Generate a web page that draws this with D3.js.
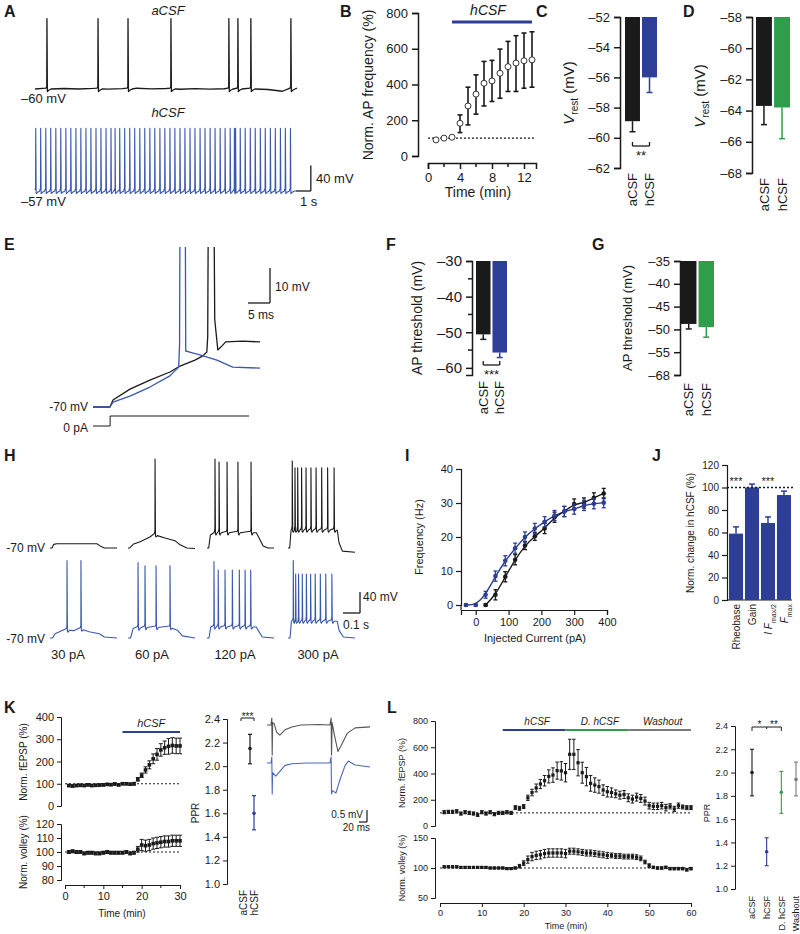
<!DOCTYPE html>
<html><head><meta charset="utf-8">
<script src="https://cdn.jsdelivr.net/npm/d3@7"></script>
<style>body{margin:0;background:#fff}</style>
</head><body><script>
// ================= DATA =================
// A: spike times (s) and baseline wobble (mV, one value per second)
const aCSF_spikes = [0.82,4.33,6.39,9.34,13.32,13.94,14.83,17.58];
const aCSF_noise = [0,-0.5,0.8,0,1.0,-0.3,0.6,1.2,0.2,0.8,-0.4,0.6,-0.2,0.4,0.9,0.3,-0.8,-3.5,1.5];
const hCSF_spikes = [0.05,0.39,0.74,1.08,1.43,1.77,2.12,2.46,2.81,3.15,3.50,3.84,4.19,4.53,4.88,5.22,5.50,5.82,6.16,6.51,6.85,7.20,7.54,7.89,8.23,8.58,8.92,9.27,9.61,9.96,10.30,10.65,10.99,11.34,11.68,12.03,12.37,12.72,13.06,13.41,13.70,13.78,14.10,14.44,14.79,15.13,15.48,15.82,16.17,16.51,16.86,17.20,17.55];
const hCSF_noise = [0,0.3,0,-0.2,0.2,0,0.3,0,-0.2,0.1,0,0.2,0,-0.1,0.2,0,0.1,0,0];
// B
const B_time = [1,2,3,4,5,6,7,8,9,10,11,12,13];
const B_mean = [90,100,105,183,280,346,407,420,463,500,520,533,538];
const B_lo   = [86,96,100,131,174,234,280,305,323,361,361,379,385];
const B_hi   = [94,104,110,230,385,454,529,535,598,641,673,688,695];
// C, D, F, G
const groups2 = ["aCSF","hCSF"];
const C_mean = [-58.9,-56.0], C_err = [0.7,1.0];
const D_mean = [-63.7,-63.8], D_err = [1.2,2.0];
const F_mean = [-50.6,-55.7], F_err = [1.4,1.4];
const G_mean = [-48.8,-49.5], G_err = [1.1,2.2];
const G_tickValues = [-35,-40,-45,-50,-55,-60];
const G_tickLabels = ["–35","–40","–45","–50","–55","–68"];
// E traces [ms, mV]
const E_black = [[0,-70],[3.86,-70],[4.55,-68],[8.41,-64.9],[12.95,-62.3],[17.5,-60],[19.8,-58.3],[23.2,-56.6],[25,-55.4],[25.9,-54.3],[26.1,-50],[26.4,30],[27.3,30],[27.7,-45],[28.4,-53.7],[29.3,-52.6],[30.2,-51.4],[34,-51.2],[38,-51.4]];
const E_blue  = [[0,-70],[3.86,-70],[4.55,-68.6],[8.41,-66.9],[12.95,-64.3],[17.5,-61.1],[19.5,-58.6],[19.7,-52],[19.9,30],[20.9,30],[21.1,-54],[22.0,-54.3],[24.3,-55.1],[28.2,-56.6],[31.8,-58.6],[38,-58.9]];
const E_current = [[0,0],[3.9,0],[3.9,1],[35.5,1]];
// H traces: envelope [ms, mV], spike times (ms), first / later spike peak (mV)
const H_top = [
  {env:[[0,-70],[12,-70],[22,-63],[40,-62],[276,-62],[295,-66],[320,-70],[394,-70]], spikes:[], p1:0, p2:0},
  {env:[[0,-70],[10,-70],[30,-63],[71,-58],[129,-49],[159,-45],[218,-51],[276,-56],[306,-64],[347,-70],[394,-71]], spikes:[159], p1:100, p2:100},
  {env:[[0,-70],[10,-70],[20,-45],[40,-41],[290,-41],[305,-50],[330,-66],[360,-70],[394,-70]], spikes:[47,71,118,182,259], p1:100, p2:94},
  {env:[[0,-70],[10,-70],[18,-36],[290,-36],[300,-60],[320,-76],[394,-78]], spikes:[25,41,57,80,106,135,165,198,233,271], p1:96, p2:83}
];
const H_bottom = [
  {env:[[0,-70],[15,-70],[30,-62],[100,-55],[140,-56],[182,-53],[230,-58],[290,-62],[320,-68],[394,-70]], spikes:[100,182], p1:78, p2:78},
  {env:[[0,-70],[15,-70],[30,-52],[100,-50],[250,-50],[290,-55],[320,-66],[394,-70]], spikes:[59,100,165,247], p1:74, p2:68},
  {env:[[0,-70],[12,-70],[22,-49],[290,-49],[300,-55],[325,-68],[394,-70]], spikes:[41,66,106,149,190,224,257], p1:76, p2:60},
  {env:[[0,-70],[12,-70],[20,-38],[290,-38],[300,-55],[325,-68],[394,-70]], spikes:[31,45,62,84,108,133,160,190,222,258], p1:78, p2:52}
];
const H_labels = ["30 pA","60 pA","120 pA","300 pA"];
// I
const I_current = [-30,0,30,60,90,120,150,180,210,240,270,300,330,360,390];
const I_hcsf    = [0,0,3,8.5,13,16.7,20,22.5,24.5,26.3,27.5,28.2,29.3,29.8,30.1];
const I_hcsfErr = [0.3,0.3,1,1.5,1.5,1.5,1.5,1.5,1.5,1.5,1.5,1.5,1.5,1.5,1.5];
const I_acsf    = [null,null,0,3,8.3,13.3,17.5,20.2,22.5,25.8,27.5,29.7,30,31.5,32.8];
const I_acsfErr = [0,0,0.3,1.5,1.5,1.5,1.2,1.2,1.5,1.5,1.5,1.5,1.5,1.5,1.5];
// J
const J_labels = ["Rheobase","Gain","IFmax2","Fmax"];
const J_mean = [59,100,68.5,93.3];
const J_err  = [6,3,5.3,3.5];
// K
const K_time = [1,2,3,4,5,6,7,8,9,10,11,12,13,14,15,16,17,18,19,20,21,22,23,24,25,26,27,28,29,30];
const K_fepsp = [92,90,92,93,92,95,92,93,94,95,97,96,99,95,100,100,98,100,120,138,162,185,212,232,252,262,268,272,270,270];
const K_fepspErr = [5,5,5,5,5,5,5,5,5,5,5,5,5,5,5,5,5,6,8,10,14,18,22,26,28,30,35,35,35,35];
const K_volley = [100,100.5,100,100,99,99.5,99.5,99,99,99.5,100,99.5,99.5,99.5,99.5,100,99,99.5,102,105,104.5,105,106,106.5,107,107.5,107.5,108,108,108];
const K_volleyErr = [1,1,1,1,1,1,1,1,1,1,1,1,1,1,1,1,1,1,2,4,4,4,4,4,4,4,4,4,4,4];
const K_pprGroups = ["aCSF","hCSF"];
const K_pprMean = [2.15,1.60], K_pprLo = [2.02,1.46], K_pprHi = [2.27,1.75];
const K_gray = [[0,0],[10,0],[12,0.29],[13,-1.25],[14,0.1],[18,0.05],[24,-0.3],[32,-0.42],[45,-0.2],[62,-0.08],[85,0],[130,0.02],[157,0],[160,0.29],[161,-1.25],[162.5,0.1],[168,-0.4],[177,-1.1],[185,-0.85],[200,-0.35],[220,-0.12],[257,-0.08]];
const K_blue = [[0,0],[10,0],[12,0.25],[13,-1.29],[14,-0.4],[22,-0.55],[32,-0.35],[45,-0.1],[62,-0.03],[100,0],[157,0],[160,0.25],[161,-1.29],[163,-1.15],[172,-1.25],[182,-0.7],[195,-0.1],[203,0.08],[220,-0.08],[257,-0.17]];
// L
const L_time = [1,2,3,4,5,6,7,8,9,10,11,12,13,14,15,16,17,18,19,20,21,22,23,24,25,26,27,28,29,30,31,32,33,34,35,36,37,38,39,40,41,42,43,44,45,46,47,48,49,50,51,52,53,54,55,56,57,58,59,60];
const L_fepsp = [105,108,108,112,95,105,100,95,85,105, 95,105,90,100,100,105,100,140,135,148, 215,255,290,320,345,378,388,422,420,406, 546,546,482,406,376,325,312,300,274,261, 255,245,235,240,215,205,220,210,190,155, 150,150,155,140,150,130,155,145,140,140];
const L_fepspErr = [12,12,12,12,12,12,12,12,12,12, 12,12,12,12,12,12,12,15,15,15, 20,25,30,35,40,50,55,65,70,70, 115,115,100,80,70,60,55,50,40,40, 35,30,30,30,30,30,30,30,30,25, 25,25,25,25,20,20,20,15,15,15];
const L_volley = [102,102,102,102,101,101,101,101,101,101, 101,100,100,100,100,99,99,100,103,108, 114,119,121,122,124,125,125,125,125,124, 128,128,127,126,125,125,124,123,122,121, 121,120,120,119,119,119,118,116,110,104, 101,100,100,101,99,99,99,99,97,99];
const L_volleyErr = [1.5,1.5,1.5,1.5,1.5,1.5,1.5,1.5,1.5,1.5, 1.5,1.5,1.5,1.5,1.5,1.5,1.5,1.5,3,4, 6,7,7,7,7,7,7,7,7,7, 5,5,5,5,5,5,5,5,5,5, 4,4,4,4,4,4,4,4,3,3, 2,2,2,2,2,2,2,2,2,2];
const L_phases = ["hCSF","D. hCSF","Washout"];
const L_phaseStart = [15,30,45], L_phaseEnd = [30,45,60];
const L_pprGroups = ["aCSF","hCSF","D. hCSF","Washout"];
const L_pprMean = [2.0,1.32,1.83,1.94], L_pprLo = [1.80,1.20,1.65,1.80], L_pprHi = [2.20,1.44,2.01,2.09];

// ================= DRAWING =================
const FONT = "'Liberation Sans', Arial, Helvetica, sans-serif";
const INK = '#1a1a1a', BLUE = '#2c3e95', TBLUE = '#3a57ad', GREEN = '#2e9e4a', GRAY = '#7a7a7a';
const svg = d3.select('body').append('svg').attr('width',800).attr('height',934)
  .style('background','#fff').attr('font-family',FONT);

function txt(x,y,s,o={}){
  const t = svg.append('text').attr('x',x).attr('y',y).text(s)
    .attr('font-size',o.size||12).attr('text-anchor',o.anchor||'start').attr('fill',o.fill||INK);
  if(o.bold) t.attr('font-weight','bold');
  if(o.italic) t.attr('font-style','italic');
  if(o.rot) t.attr('transform',`rotate(${o.rot},${x},${y})`);
  if(o.dy) t.attr('dy',o.dy);
  return t;
}
function ln(x1,y1,x2,y2,c=INK,w=1,dash=null){
  const l = svg.append('line').attr('x1',x1).attr('y1',y1).attr('x2',x2).attr('y2',y2)
    .attr('stroke',c).attr('stroke-width',w);
  if(dash) l.attr('stroke-dasharray',dash);
  return l;
}
function styleAxis(g,size,sw){
  g.attr('font-family',FONT);
  g.selectAll('text').attr('font-size',size).attr('fill',INK).attr('font-family',FONT);
  g.selectAll('line').attr('stroke',INK).attr('stroke-width',sw);
  g.select('.domain').attr('stroke',INK).attr('stroke-width',sw);
}
function yAxis(x,scale,o){
  const ax = d3.axisLeft(scale).tickSizeOuter(0).tickSize(o.tick||5).tickPadding(o.pad||3);
  if(o.values) ax.tickValues(o.values);
  if(o.fmt) ax.tickFormat(o.fmt);
  const g = svg.append('g').attr('transform',`translate(${x},0)`).call(ax);
  styleAxis(g,o.size||12,o.sw||1);
  return g;
}
function xAxis(y,scale,o){
  const ax = d3.axisBottom(scale).tickSizeOuter(0).tickSize(o.tick||5).tickPadding(o.pad||3);
  if(o.values) ax.tickValues(o.values);
  if(o.fmt) ax.tickFormat(o.fmt);
  const g = svg.append('g').attr('transform',`translate(0,${y})`).call(ax);
  styleAxis(g,o.size||12,o.sw||1);
  return g;
}
function minorTicksX(y,scale,vals,len,sw){ vals.forEach(v=>ln(scale(v),y,scale(v),y+len,INK,sw)); }
function minorTicksY(x,scale,vals,len,sw){ vals.forEach(v=>ln(x,scale(v),x-len,scale(v),INK,sw)); }
function errBar(x,y1,y2,c,cap,sw,capTop=true,capBot=true){
  ln(x,y1,x,y2,c,sw);
  if(capTop) ln(x-cap/2,Math.min(y1,y2),x+cap/2,Math.min(y1,y2),c,sw);
  if(capBot) ln(x-cap/2,Math.max(y1,y2),x+cap/2,Math.max(y1,y2),c,sw);
}
const endash = d => (d<0? '–'+Math.abs(d) : String(d));
function path(points, line, color, w){
  return svg.append('path').attr('d',line(points)).attr('fill','none').attr('stroke',color)
    .attr('stroke-width',w).attr('stroke-linejoin','round');
}
// panel letters
[["A",4,17],["B",340,17],["C",536,17],["D",683,17],["E",4,250],["F",386,250],["G",592,250],
 ["H",4,461],["I",405,461],["J",652,461],["K",4,713],["L",387,713]].forEach(d=>txt(d[1],d[2],d[0],{size:16,bold:true}));

// ---------- A ----------
function train(spikes, noise, base, peak){
  const pts = [];
  noise.forEach((n,i)=>{ if(!spikes.some(s=> i>s-0.08 && i<s+0.3)) pts.push([i, base+n]); });
  spikes.forEach(s=>{ pts.push([s-0.06,base+1.5],[s-0.012,base+4],[s,peak],[s+0.03,base-4],[s+0.12,base-2],[s+0.28,base]); });
  pts.sort((a,b)=>a[0]-b[0]);
  return pts;
}
const xA = d3.scaleLinear([0,18],[35,297]);
const yA1 = d3.scaleLinear([-60,50],[89,18.6]);
const yA2 = d3.scaleLinear([-57,50],[191,122.5]);
path(train(aCSF_spikes,aCSF_noise,-60,50), d3.line().x(d=>xA(d[0])).y(d=>yA1(d[1])), INK, 1.3);
path(train(hCSF_spikes,hCSF_noise,-57,41), d3.line().x(d=>xA(d[0])).y(d=>yA2(d[1])), TBLUE, 1.1);
txt(168,15,"aCSF",{size:13,italic:true,anchor:'middle'});
txt(168,117,"hCSF",{size:13,italic:true,anchor:'middle'});
txt(21,103,"–60 mV",{size:13});
txt(21,206,"–57 mV",{size:13});
ln(xA(17.95),yA2(-57),xA(18.95),yA2(-57),INK,1.3);
ln(xA(18.95),yA2(-57),xA(18.95),yA2(-17),INK,1.3);
txt(316,183,"40 mV",{size:13});
txt(300,206,"1 s",{size:13});

// ---------- B ----------
const xB = d3.scaleLinear([0,13.5],[428,536]);
const yB = d3.scaleLinear([0,800],[156,13]);
yAxis(418,yB,{values:[0,200,400,600,800],tick:6,size:13,sw:1.5,pad:4});
xAxis(163,xB,{values:[0,4,8,12],tick:6,size:13,sw:1.5,pad:4});
minorTicksX(163,xB,[2,6,10],4,1.5);
ln(xB(0),yB(100),xB(13.5),yB(100),INK,1.2,'2,2');
ln(xB(3),22,xB(13),22,BLUE,3);
txt(488,15,"hCSF",{size:14,italic:true,anchor:'middle'});
B_time.forEach((t,i)=>{ if(B_hi[i]-B_lo[i]>12) errBar(xB(t),yB(B_lo[i]),yB(B_hi[i]),INK,5,1.6); });
svg.selectAll(null).data(B_time).join('circle').attr('cx',d=>xB(d)).attr('cy',(d,i)=>yB(B_mean[i]))
  .attr('r',3).attr('fill','#fff').attr('stroke','#333').attr('stroke-width',1);
txt(373,85,"Norm. AP frequency (%)",{size:14,anchor:'middle',rot:-90});
txt(478,197,"Time (min)",{size:14,anchor:'middle'});

// ---------- bar panel helper (bars hang from top of axis) ----------
function hangBars(o){
  const y = d3.scaleLinear(o.domain,o.range);
  yAxis(o.ax,y,{values:o.values,fmt:o.fmt||endash,tick:6,size:o.size||13,sw:1.5,pad:4});
  if(o.minor) minorTicksY(o.ax,y,o.minor,4,1.5);
  const xb = d3.scaleBand(groups2,o.xr).paddingInner(0.12);
  groups2.forEach((g,i)=>{
    const x = xb(g), w = xb.bandwidth(), c = o.colors[i];
    svg.append('rect').attr('x',x).attr('y',y(o.domain[1])).attr('width',w)
      .attr('height',y(o.mean[i])-y(o.domain[1])).attr('fill',c);
    errBar(x+w/2,y(o.mean[i]),y(o.mean[i]-o.err[i]),c,6,1.5,false,true);
    txt(x+w/2,o.labY,g,{size:13,anchor:'end',rot:-90,dy:'0.36em'});
  });
  if(o.star){
    const x1 = xb(groups2[0])+xb.bandwidth()/2, x2 = xb(groups2[1])+xb.bandwidth()/2;
    ln(x1,o.brY,x2,o.brY,INK,1.3); ln(x1,o.brY,x1,o.brY-4,INK,1.3); ln(x2,o.brY,x2,o.brY-4,INK,1.3);
    txt((x1+x2)/2,o.brY+14,o.star,{size:13,anchor:'middle'});
  }
  return y;
}
// C
hangBars({domain:[-62,-52],range:[168,17],ax:620,values:[-62,-60,-58,-56,-54,-52],xr:[625,657],
  mean:C_mean,err:C_err,colors:[INK,BLUE],labY:173,star:'**',brY:146});
// D
hangBars({domain:[-68,-58],range:[173,17],ax:752,values:[-68,-66,-64,-62,-60,-58],xr:[756,790],
  mean:D_mean,err:D_err,colors:[INK,GREEN],labY:178});
function yLabelVrest(x,y){
  const t = svg.append('text').attr('transform',`translate(${x},${y}) rotate(-90)`).attr('text-anchor','middle')
    .attr('font-size',15).attr('fill',INK);
  t.append('tspan').text('V').attr('font-style','italic');
  t.append('tspan').text('rest').attr('font-size',10).attr('dy',4);
  t.append('tspan').text(' (mV)').attr('dy',-4);
}
yLabelVrest(574,93);
yLabelVrest(705,96);
// F
hangBars({domain:[-62,-30],range:[375,261],ax:472,values:[-60,-50,-40,-30],minor:[-55,-45,-35],xr:[476,507],
  mean:F_mean,err:F_err,colors:[INK,BLUE],labY:381,star:'***',brY:365,size:15});
txt(422,318,"AP threshold (mV)",{size:14,anchor:'middle',rot:-90});
// G
const yGdom = [-60,-35];
hangBars({domain:yGdom,range:[375,261],ax:680,values:G_tickValues,fmt:(d,i)=>G_tickLabels[G_tickValues.indexOf(d)],xr:[681,714],
  mean:G_mean,err:G_err,colors:[INK,GREEN],labY:383});
txt(632,318,"AP threshold (mV)",{size:13,anchor:'middle',rot:-90});

// ---------- E ----------
const xE = d3.scaleLinear([0,38],[93,260]);
const yE = d3.scaleLinear([-70,-60],[407,372]);
svg.append('clipPath').attr('id','clipE').append('rect').attr('x',80).attr('y',247).attr('width',200).attr('height',200);
const lineE = d3.line().x(d=>xE(d[0])).y(d=>yE(d[1]));
path(E_black,lineE,INK,1.3).attr('clip-path','url(#clipE)');
path(E_blue,lineE,TBLUE,1.3).attr('clip-path','url(#clipE)');
const yEc = d3.scaleLinear([0,1],[426,416]);
path(E_current,d3.line().x(d=>xE(d[0])).y(d=>yEc(d[1])),INK,1);
txt(88,411,"-70 mV",{size:12,anchor:'end'});
txt(88,432,"0 pA",{size:12,anchor:'end'});
ln(248,303,270,303,INK,1.3); ln(270,303,270,268,INK,1.3);
txt(275,291,"10 mV",{size:12});
txt(248,319,"5 ms",{size:12});

// ---------- H ----------
function hTrace(tr){
  const envAt = d3.scaleLinear(tr.env.map(d=>d[0]),tr.env.map(d=>d[1]));
  const pts = tr.env.filter(e=>!tr.spikes.some(s=>e[0]>s-4 && e[0]<s+14));
  tr.spikes.forEach((s,i)=>{
    const b = envAt(s);
    pts.push([s-3,b+3],[s-0.5,b+8],[s,i===0?tr.p1:tr.p2],[s+2.5,b-2],[s+6,b-4],[s+13,envAt(s+13)]);
  });
  pts.sort((a,b)=>a[0]-b[0]);
  return pts;
}
const hX0 = [50,128,207,288];
const yHt = d3.scaleLinear([-70,100],[548,459]);
const yHb = d3.scaleLinear([-70,100],[638,549]);
H_top.forEach((tr,i)=>{ const xs = d3.scaleLinear([0,394],[hX0[i],hX0[i]+67]);
  path(hTrace(tr), d3.line().x(d=>xs(d[0])).y(d=>yHt(d[1])), INK, 1.1); });
H_bottom.forEach((tr,i)=>{ const xs = d3.scaleLinear([0,394],[hX0[i],hX0[i]+67]);
  path(hTrace(tr), d3.line().x(d=>xs(d[0])).y(d=>yHb(d[1])), TBLUE, 1.1); });
txt(45,552,"-70 mV",{size:12,anchor:'end'});
txt(45,643,"-70 mV",{size:12,anchor:'end'});
H_labels.forEach((l,i)=>txt([68,152,235,318][i],659,l,{size:13,anchor:'middle'}));
ln(343,613,360,613,INK,1.3); ln(360,613,360,592,INK,1.3);
txt(363,601,"40 mV",{size:12});
txt(343,629,"0.1 s",{size:12});

// ---------- I ----------
const xI = d3.scaleLinear([-45,400],[461,607]);
const yI = d3.scaleLinear([0,40],[605,469]);
yAxis(461,yI,{values:[0,10,20,30,40],tick:5,size:11,sw:1.2});
ln(461,605,461,610,INK,1.2);
xAxis(610,xI,{values:[0,100,200,300,400],tick:5,size:11,sw:1.2});
const lineI = d3.line().x(d=>xI(d[0])).y(d=>yI(d[1])).curve(d3.curveBasis);
const blueI = I_current.map((c,i)=>[c,I_hcsf[i]]);
const blackI = I_current.map((c,i)=>[c,I_acsf[i]]).filter(d=>d[1]!==null);
path(blueI,lineI,BLUE,1.4);
path(blackI,lineI,INK,1.4);
I_current.forEach((c,i)=>{
  if(I_acsf[i]!==null){ errBar(xI(c),yI(I_acsf[i]-I_acsfErr[i]),yI(I_acsf[i]+I_acsfErr[i]),INK,4,1.3);
    svg.append('circle').attr('cx',xI(c)).attr('cy',yI(I_acsf[i])).attr('r',2.3).attr('fill',INK); }
  errBar(xI(c),yI(I_hcsf[i]-I_hcsfErr[i]),yI(I_hcsf[i]+I_hcsfErr[i]),BLUE,4,1.3);
  svg.append('circle').attr('cx',xI(c)).attr('cy',yI(I_hcsf[i])).attr('r',2.3).attr('fill',BLUE);
});
txt(423,537,"Frequency (Hz)",{size:11,anchor:'middle',rot:-90});
txt(535,642,"Injected Current (pA)",{size:11,anchor:'middle'});

// ---------- J ----------
const yJ = d3.scaleLinear([0,120],[600,465]);
yAxis(727,yJ,{values:[0,20,40,60,80,100,120],tick:5,size:10,sw:1.2});
ln(727,600,792,600,INK,1.2);
const xJ = d3.scaleBand(J_labels,[729,791]).paddingInner(0.12);
J_labels.forEach((l,i)=>{
  const x = xJ(l), w = xJ.bandwidth();
  errBar(x+w/2,yJ(J_mean[i]),yJ(J_mean[i]+J_err[i]),BLUE,6,1.5,true,false);
  svg.append('rect').attr('x',x).attr('y',yJ(J_mean[i])).attr('width',w).attr('height',yJ(0)-yJ(J_mean[i])).attr('fill',BLUE);
});
ln(727,yJ(100),795,yJ(100),INK,1.3,'2,2');
txt(xJ("Rheobase")+xJ.bandwidth()/2,485,"***",{size:11,anchor:'middle'});
txt(xJ("IFmax2")+xJ.bandwidth()/2,485,"***",{size:11,anchor:'middle'});
function jLabel(key,parts){
  const cx = xJ(key)+xJ.bandwidth()/2;
  const t = svg.append('text').attr('transform',`translate(${cx},604) rotate(-90)`).attr('text-anchor','end')
    .attr('dy','0.36em').attr('font-size',10).attr('fill',INK);
  parts.forEach(p=>{ const s=t.append('tspan').text(p.t);
    if(p.it) s.attr('font-style','italic');
    if(p.sub) s.attr('font-size',7).attr('baseline-shift','sub'); });
}
jLabel("Rheobase",[{t:"Rheobase"}]);
jLabel("Gain",[{t:"Gain"}]);
jLabel("IFmax2",[{t:"I ",it:true},{t:"F",it:true},{t:"max/2",sub:true}]);
jLabel("Fmax",[{t:"F",it:true},{t:"max",sub:true}]);
txt(694,533,"Norm. change in hCSF (%)",{size:10,anchor:'middle',rot:-90});

// ---------- K ----------
function squares(xs,ys,xv,yv,ev,size,cap){
  xv.forEach((t,i)=>{ errBar(xs(t),ys(yv[i]-ev[i]),ys(yv[i]+ev[i]),INK,cap,1); });
  svg.selectAll(null).data(xv).join('rect').attr('x',d=>xs(d)-size/2).attr('y',(d,i)=>ys(yv[i])-size/2)
    .attr('width',size).attr('height',size).attr('fill',INK);
}
const xK = d3.scaleLinear([0,30],[65,180]);
const yK1 = d3.scaleLinear([0,400],[806,717]);
const yK2 = d3.scaleLinear([80,120],[880,824]);
yAxis(61,yK1,{values:[0,100,200,300,400],tick:4,size:11,sw:1});
yAxis(61,yK2,{values:[80,90,100,110,120],tick:4,size:11,sw:1});
xAxis(885,xK,{values:[0,10,20,30],tick:4,size:11,sw:1});
minorTicksX(885,xK,[5,15,25],3,1);
ln(xK(0),yK1(100),xK(30),yK1(100),INK,1,'2,2');
ln(xK(0),yK2(100),xK(30),yK2(100),INK,1,'2,2');
squares(xK,yK1,K_time,K_fepsp,K_fepspErr,3.6,4);
squares(xK,yK2,K_time,K_volley,K_volleyErr,3.6,4);
ln(xK(15),732,xK(30),732,BLUE,2);
txt(xK(22.5),727,"hCSF",{size:11,italic:true,anchor:'middle'});
txt(27,762,"Norm. fEPSP (%)",{size:10,anchor:'middle',rot:-90});
txt(27,852,"Norm. volley (%)",{size:10,anchor:'middle',rot:-90});
txt(122,917,"Time (min)",{size:10,anchor:'middle'});
// K PPR
const yKp = d3.scaleLinear([1.0,2.4],[884,719]);
yAxis(227,yKp,{values:[1.0,1.2,1.4,1.6,1.8,2.0,2.2,2.4],fmt:d3.format('.1f'),tick:4,size:11,sw:1});
const xKp = d3.scalePoint(K_pprGroups,[250,254]);
const xKl = d3.scalePoint(K_pprGroups,[243,254]);
const kCol = [INK,BLUE];
K_pprGroups.forEach((g,i)=>{
  errBar(xKp(g),yKp(K_pprLo[i]),yKp(K_pprHi[i]),kCol[i],4,1.2);
  svg.append('circle').attr('cx',xKp(g)).attr('cy',yKp(K_pprMean[i])).attr('r',1.8).attr('fill',kCol[i]);
  txt(xKl(g),890,g,{size:10,anchor:'end',rot:-90,dy:'0.36em'});
});
ln(241,718,254,718,INK,1); ln(241,718,241,721,INK,1); ln(254,718,254,721,INK,1);
txt(247.5,720,"***",{size:10,anchor:'middle'});
txt(199,813,"PPR",{size:10,anchor:'middle',rot:-90});
// K inset traces
const xKt = d3.scaleLinear([0,257],[267,370]);
const yKg = d3.scaleLinear([0,-1],[725,749]);
const yKb = d3.scaleLinear([0,-1],[763,787]);
path(K_gray,d3.line().x(d=>xKt(d[0])).y(d=>yKg(d[1])),'#555',1.1);
path(K_blue,d3.line().x(d=>xKt(d[0])).y(d=>yKb(d[1])),'#4a68c0',1.1);
ln(359,822,367,822,INK,1.2); ln(367,822,367,810,INK,1.2);
txt(363,818,"0.5 mV",{size:10,anchor:'end'});
txt(370,831,"20 ms",{size:10,anchor:'end'});

// ---------- L ----------
const xL = d3.scaleLinear([0,60],[440,691]);
const yL1 = d3.scaleLinear([0,800],[826,721]);
const yL2 = d3.scaleLinear([50,150],[898,838]);
yAxis(435,yL1,{values:[0,200,400,600,800],tick:4,size:9,sw:1});
yAxis(435,yL2,{values:[50,100,150],tick:4,size:9,sw:1});
xAxis(903,xL,{values:[0,10,20,30,40,50,60],tick:4,size:9,sw:1});
ln(xL(0),yL1(100),xL(60),yL1(100),INK,1,'2,2');
ln(xL(0),yL2(100),xL(60),yL2(100),INK,1,'2,2');
squares(xL,yL1,L_time,L_fepsp,L_fepspErr,3.2,3.5);
squares(xL,yL2,L_time,L_volley,L_volleyErr,3.2,3.5);
const phaseCol = [BLUE,GREEN,GRAY];
L_phases.forEach((p,i)=>{
  ln(xL(L_phaseStart[i]),730,xL(L_phaseEnd[i]),730,phaseCol[i],1.8);
  txt(xL((L_phaseStart[i]+L_phaseEnd[i])/2)+3,725,p,{size:10,italic:true,anchor:'middle'});
});
txt(405,773,"Norm. fEPSP (%)",{size:9,anchor:'middle',rot:-90});
txt(405,868,"Norm. volley (%)",{size:9,anchor:'middle',rot:-90});
txt(566,929,"Time (min)",{size:9,anchor:'middle'});
// L PPR
const yLp = d3.scaleLinear([1.0,2.4],[889,726]);
yAxis(735,yLp,{values:[1.0,1.2,1.4,1.6,1.8,2.0,2.2,2.4],fmt:d3.format('.1f'),tick:4,size:9,sw:1});
const xLp = d3.scalePoint(L_pprGroups,[752,796]);
const lCol = [INK,BLUE,GREEN,GRAY];
L_pprGroups.forEach((g,i)=>{
  errBar(xLp(g),yLp(L_pprLo[i]),yLp(L_pprHi[i]),lCol[i],4,1.1);
  svg.append('circle').attr('cx',xLp(g)).attr('cy',yLp(L_pprMean[i])).attr('r',1.8).attr('fill',lCol[i]);
  txt(xLp(g),896,g,{size:9,anchor:'end',rot:-90,dy:'0.36em'});
});
const bx = L_pprGroups.map(g=>xLp(g));
ln(bx[0],727,bx[1],727,INK,1); ln(bx[1],727,bx[2],727,INK,1);
ln(bx[0],727,bx[0],731,INK,1); ln(bx[2],727,bx[2],731,INK,1); ln(bx[1],727,bx[1],729,INK,1);
txt((bx[0]+bx[1])/2,728,"*",{size:10,anchor:'middle'});
txt((bx[1]+bx[2])/2,728,"**",{size:10,anchor:'middle'});
txt(710,813,"PPR",{size:9,anchor:'middle',rot:-90});
</script></body></html>
